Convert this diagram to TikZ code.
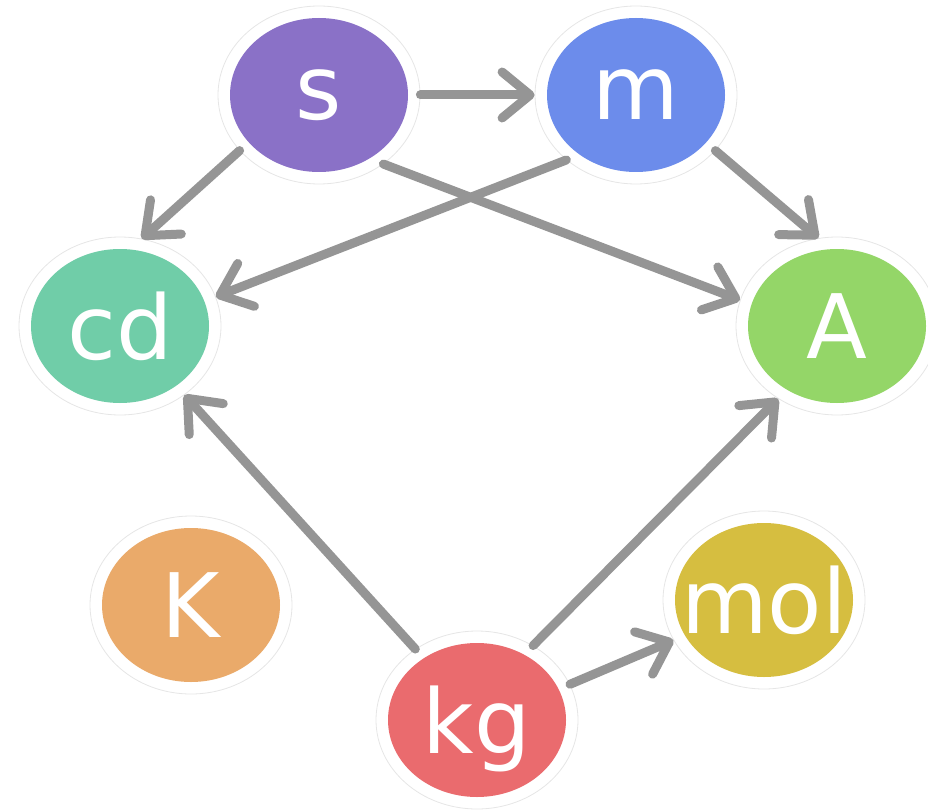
\documentclass[tikz,border=0pt]{standalone}
\usepackage{fontspec}
\setmainfont{DejaVu Sans}
\usetikzlibrary{arrows.meta,shapes.geometric}
\definecolor{cs}{HTML}{8A71C7}
\definecolor{cm}{HTML}{6C8CEB}
\definecolor{ccd}{HTML}{70CDA8}
\definecolor{cA}{HTML}{94D668}
\definecolor{cK}{HTML}{EAAA6A}
\definecolor{cmol}{HTML}{D6BE40}
\definecolor{ckg}{HTML}{EA6B6E}
\definecolor{edgegray}{HTML}{959595}
\definecolor{halogray}{HTML}{E6E6E6}
\tikzset{
  halo/.style={ellipse, fill=white, draw=halogray, line width=0.8pt, inner sep=0pt,
    minimum width=202pt, minimum height=178pt},
  unit/.style={ellipse, fill=#1, draw=none, inner sep=0pt, text=white,
    minimum width=178pt, minimum height=154pt, text depth=0pt,
    font=\fontsize{89}{89}\selectfont},
  link/.style={draw=edgegray, line width=9pt, line cap=round,
    -{Straight Barb[length=28pt,width=46pt,line width=9pt,round]}}
}
\begin{document}
\begin{tikzpicture}[x=1pt,y=-1pt]
\useasboundingbox (0,0) rectangle (928,810);
% halos
\node[halo] (s) at (319,95) {};
\node[halo] (m) at (636,95) {};
\node[halo] (cd) at (120,326) {};
\node[halo] (A) at (837,326) {};
\node[halo] (K) at (191,605) {};
\node[halo] (mol) at (764,600) {};
\node[halo] (kg) at (477,720) {};
% coloured discs
\node[unit=cs] (s-in) at (s) {s};
\node[unit=cm] (m-in) at (m) {m};
\node[unit=ccd] (cd-in) at (cd) {cd};
\node[unit=cA] (A-in) at (A) {A};
\node[unit=cK] (K-in) at (K) {K};
\node[unit=cmol] (mol-in) at (mol) {\makebox[0pt]{mol}};
\node[unit=ckg] (kg-in) at (kg) {kg};
% connectors
\draw[link] (s.0) -- (m.180);
\draw[link] (s.215) -- (cd.76);
\draw[link] (s.-47) -- (A.165);
\draw[link] (m.223) -- (cd.17);
\draw[link] (m.-35) -- (A.102);
\draw[link] (kg.131) -- (cd.-47);
\draw[link] (kg.53) -- (A.231);
\draw[link] (kg.21) -- (mol.204);
\end{tikzpicture}
\end{document}
